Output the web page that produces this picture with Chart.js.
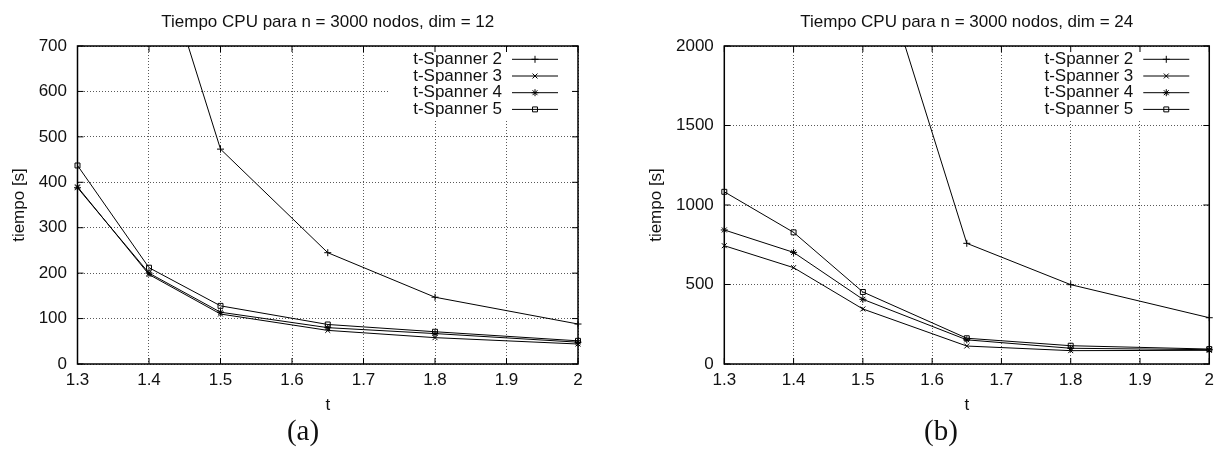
<!DOCTYPE html>
<html>
<head>
<meta charset="utf-8">
<title>Tiempo CPU t-Spanner</title>
<script src="https://cdn.jsdelivr.net/npm/chart.js@4.4.1/dist/chart.umd.min.js"></script>
<style>
  html, body { margin: 0; padding: 0; background: #fff; }
  #wrap { position: relative; width: 1220px; height: 457px; overflow: hidden; }
  canvas { position: absolute; top: 0; }
  #chartA { left: 0; }
  #chartB { left: 610px; }
  .caption {
    position: absolute; top: 416px; width: 80px; text-align: center;
    font-family: "Liberation Serif", "DejaVu Serif", serif; font-size: 29px; line-height: 29px; color: #111;
  }
</style>
</head>
<body>
<div id="wrap">
  <canvas id="chartA" width="610" height="457"></canvas>
  <canvas id="chartB" width="610" height="457"></canvas>
  <div class="caption" style="left:263px">(a)</div>
  <div class="caption" style="left:901px">(b)</div>
</div>
<script>
// valores de t medidos
const tValues = [1.3, 1.4, 1.5, 1.65, 1.8, 2];
const seriesNames = ['t-Spanner 2', 't-Spanner 3', 't-Spanner 4', 't-Spanner 5'];

// dim = 12, tiempo [s]
const dim12Spanner2 = [null, 975, 473, 245, 147, 88];
const dim12Spanner3 = [390, 197, 110, 74, 58, 44];
const dim12Spanner4 = [388, 200, 114, 80, 67, 48];
const dim12Spanner5 = [437, 212, 128, 87, 71, 51];

// dim = 24, tiempo [s]
const dim24Spanner2 = [null, null, 2850, 759, 499, 291];
const dim24Spanner3 = [744, 606, 346, 113, 84, 86];
const dim24Spanner4 = [843, 702, 407, 152, 99, 90];
const dim24Spanner5 = [1083, 828, 453, 162, 115, 94];

// ticks
const xTicks = [1.3, 1.4, 1.5, 1.6, 1.7, 1.8, 1.9, 2];
const xTickLabels = ['1.3', '1.4', '1.5', '1.6', '1.7', '1.8', '1.9', '2'];
const yTicksDim12 = [0, 100, 200, 300, 400, 500, 600, 700];
const yTickLabelsDim12 = ['0', '100', '200', '300', '400', '500', '600', '700'];
const yTicksDim24 = [0, 500, 1000, 1500, 2000];
const yTickLabelsDim24 = ['0', '500', '1000', '1500', '2000'];

const markers = ['cross', 'crossRot', 'star', 'rect'];
const FONT = '"Liberation Sans", Arial, Helvetica, sans-serif';

Chart.defaults.font.family = FONT;
Chart.defaults.font.size = 17;
Chart.defaults.color = '#111';

// recuadro, marcas de escala hacia dentro y leyenda estilo gnuplot
const gnuFrame = {
  id: 'gnuFrame',
  beforeDatasetsDraw(chart) {
    const ctx = chart.ctx;
    const a = chart.chartArea;
    const xs = chart.scales.x, ys = chart.scales.y;
    ctx.save();

    // fondo blanco de la leyenda (tapa la rejilla)
    ctx.fillStyle = '#fff';
    ctx.fillRect(a.right - 188, a.top + 1, 182, 72);

    // marcas de escala
    ctx.strokeStyle = '#000';
    ctx.lineWidth = 1;
    ctx.beginPath();
    xs.ticks.forEach(t => {
      const x = xs.getPixelForValue(t.value);
      ctx.moveTo(x, a.bottom); ctx.lineTo(x, a.bottom - 6);
      ctx.moveTo(x, a.top); ctx.lineTo(x, a.top + 6);
    });
    ys.ticks.forEach(t => {
      const y = ys.getPixelForValue(t.value);
      ctx.moveTo(a.left, y); ctx.lineTo(a.left + 6, y);
      ctx.moveTo(a.right, y); ctx.lineTo(a.right - 6, y);
    });
    ctx.stroke();

    // borde
    ctx.lineWidth = 1.5;
    ctx.strokeRect(a.left, a.top, a.right - a.left, a.bottom - a.top);

    // leyenda
    ctx.font = '17px ' + FONT;
    ctx.textAlign = 'right';
    ctx.textBaseline = 'middle';
    chart.data.datasets.forEach((ds, i) => {
      const y = a.top + 13.3 + i * 16.7;
      ctx.fillStyle = '#111';
      ctx.fillText(ds.label, a.right - 76, y);
      ctx.strokeStyle = '#000';
      ctx.lineWidth = 1;
      ctx.beginPath();
      ctx.moveTo(a.right - 66, y);
      ctx.lineTo(a.right - 20, y);
      ctx.stroke();
      ctx.fillStyle = 'rgba(0,0,0,0)';
      Chart.helpers.drawPoint(ctx, {pointStyle: ds.pointStyle, radius: 3.5, borderWidth: 1, rotation: 0}, a.right - 43, y);
    });
    ctx.restore();
  }
};

function buildDatasets(values){
  return values.map((data, i) => ({
    label: seriesNames[i],
    data: data,
    borderColor: '#000',
    borderWidth: 1,
    pointStyle: markers[i],
    pointRadius: 3.5,
    pointBorderWidth: 1,
    pointBorderColor: '#000',
    pointBackgroundColor: 'rgba(0,0,0,0)',
    tension: 0,
    clip: {left: 6, right: 6, top: 0, bottom: 6}
  }));
}

function chartConfig(title, values, yTicks, yLabels, yMax, axisWidth, titlePad, rightPad){
  return {
    type: 'line',
    data: { labels: tValues, datasets: buildDatasets(values) },
    options: {
      responsive: false,
      animation: false,
      layout: { padding: { left: 0, right: rightPad, top: 0, bottom: 33 } },
      plugins: {
        legend: { display: false },
        tooltip: { enabled: false },
        title: {
          display: true,
          text: title,
          fullSize: false,
          font: { size: 17, weight: 'normal' },
          color: '#111',
          padding: { top: 12, bottom: 13.6 }
        }
      },
      scales: {
        x: {
          type: 'linear',
          min: 1.3,
          max: 2,
          afterBuildTicks: scale => { scale.ticks = xTicks.map(v => ({value: v})); },
          afterFit: scale => { scale.height = 60; },
          ticks: { padding: 6, callback: (v, i) => xTickLabels[i] },
          grid: { color: 'rgba(0,0,0,0.65)', lineWidth: 1, drawTicks: false },
          border: { display: false, dash: [1, 2] },
          title: { display: true, text: 't', font: { size: 17 }, padding: { top: 0, bottom: 8.8 } }
        },
        y: {
          min: 0,
          max: yMax,
          afterBuildTicks: scale => { scale.ticks = yTicks.map(v => ({value: v})); },
          afterFit: scale => { scale.width = axisWidth; },
          ticks: { padding: 10.5, callback: (v, i) => yLabels[i] },
          grid: { color: 'rgba(0,0,0,0.65)', lineWidth: 1, drawTicks: false },
          border: { display: false, dash: [1, 2] },
          title: { display: true, text: 'tiempo [s]', font: { size: 17 }, padding: { top: titlePad, bottom: 0 } }
        }
      }
    },
    plugins: [gnuFrame]
  };
}

new Chart(document.getElementById('chartA'), chartConfig(
  'Tiempo CPU para n = 3000 nodos, dim = 12',
  [dim12Spanner2, dim12Spanner3, dim12Spanner4, dim12Spanner5],
  yTicksDim12, yTickLabelsDim12, 700, 77.5, 8.8, 32
));

new Chart(document.getElementById('chartB'), chartConfig(
  'Tiempo CPU para n = 3000 nodos, dim = 24',
  [dim24Spanner2, dim24Spanner3, dim24Spanner4, dim24Spanner5],
  yTicksDim24, yTickLabelsDim24, 2000, 114.3, 36, 5
));
</script>
</body>
</html>
